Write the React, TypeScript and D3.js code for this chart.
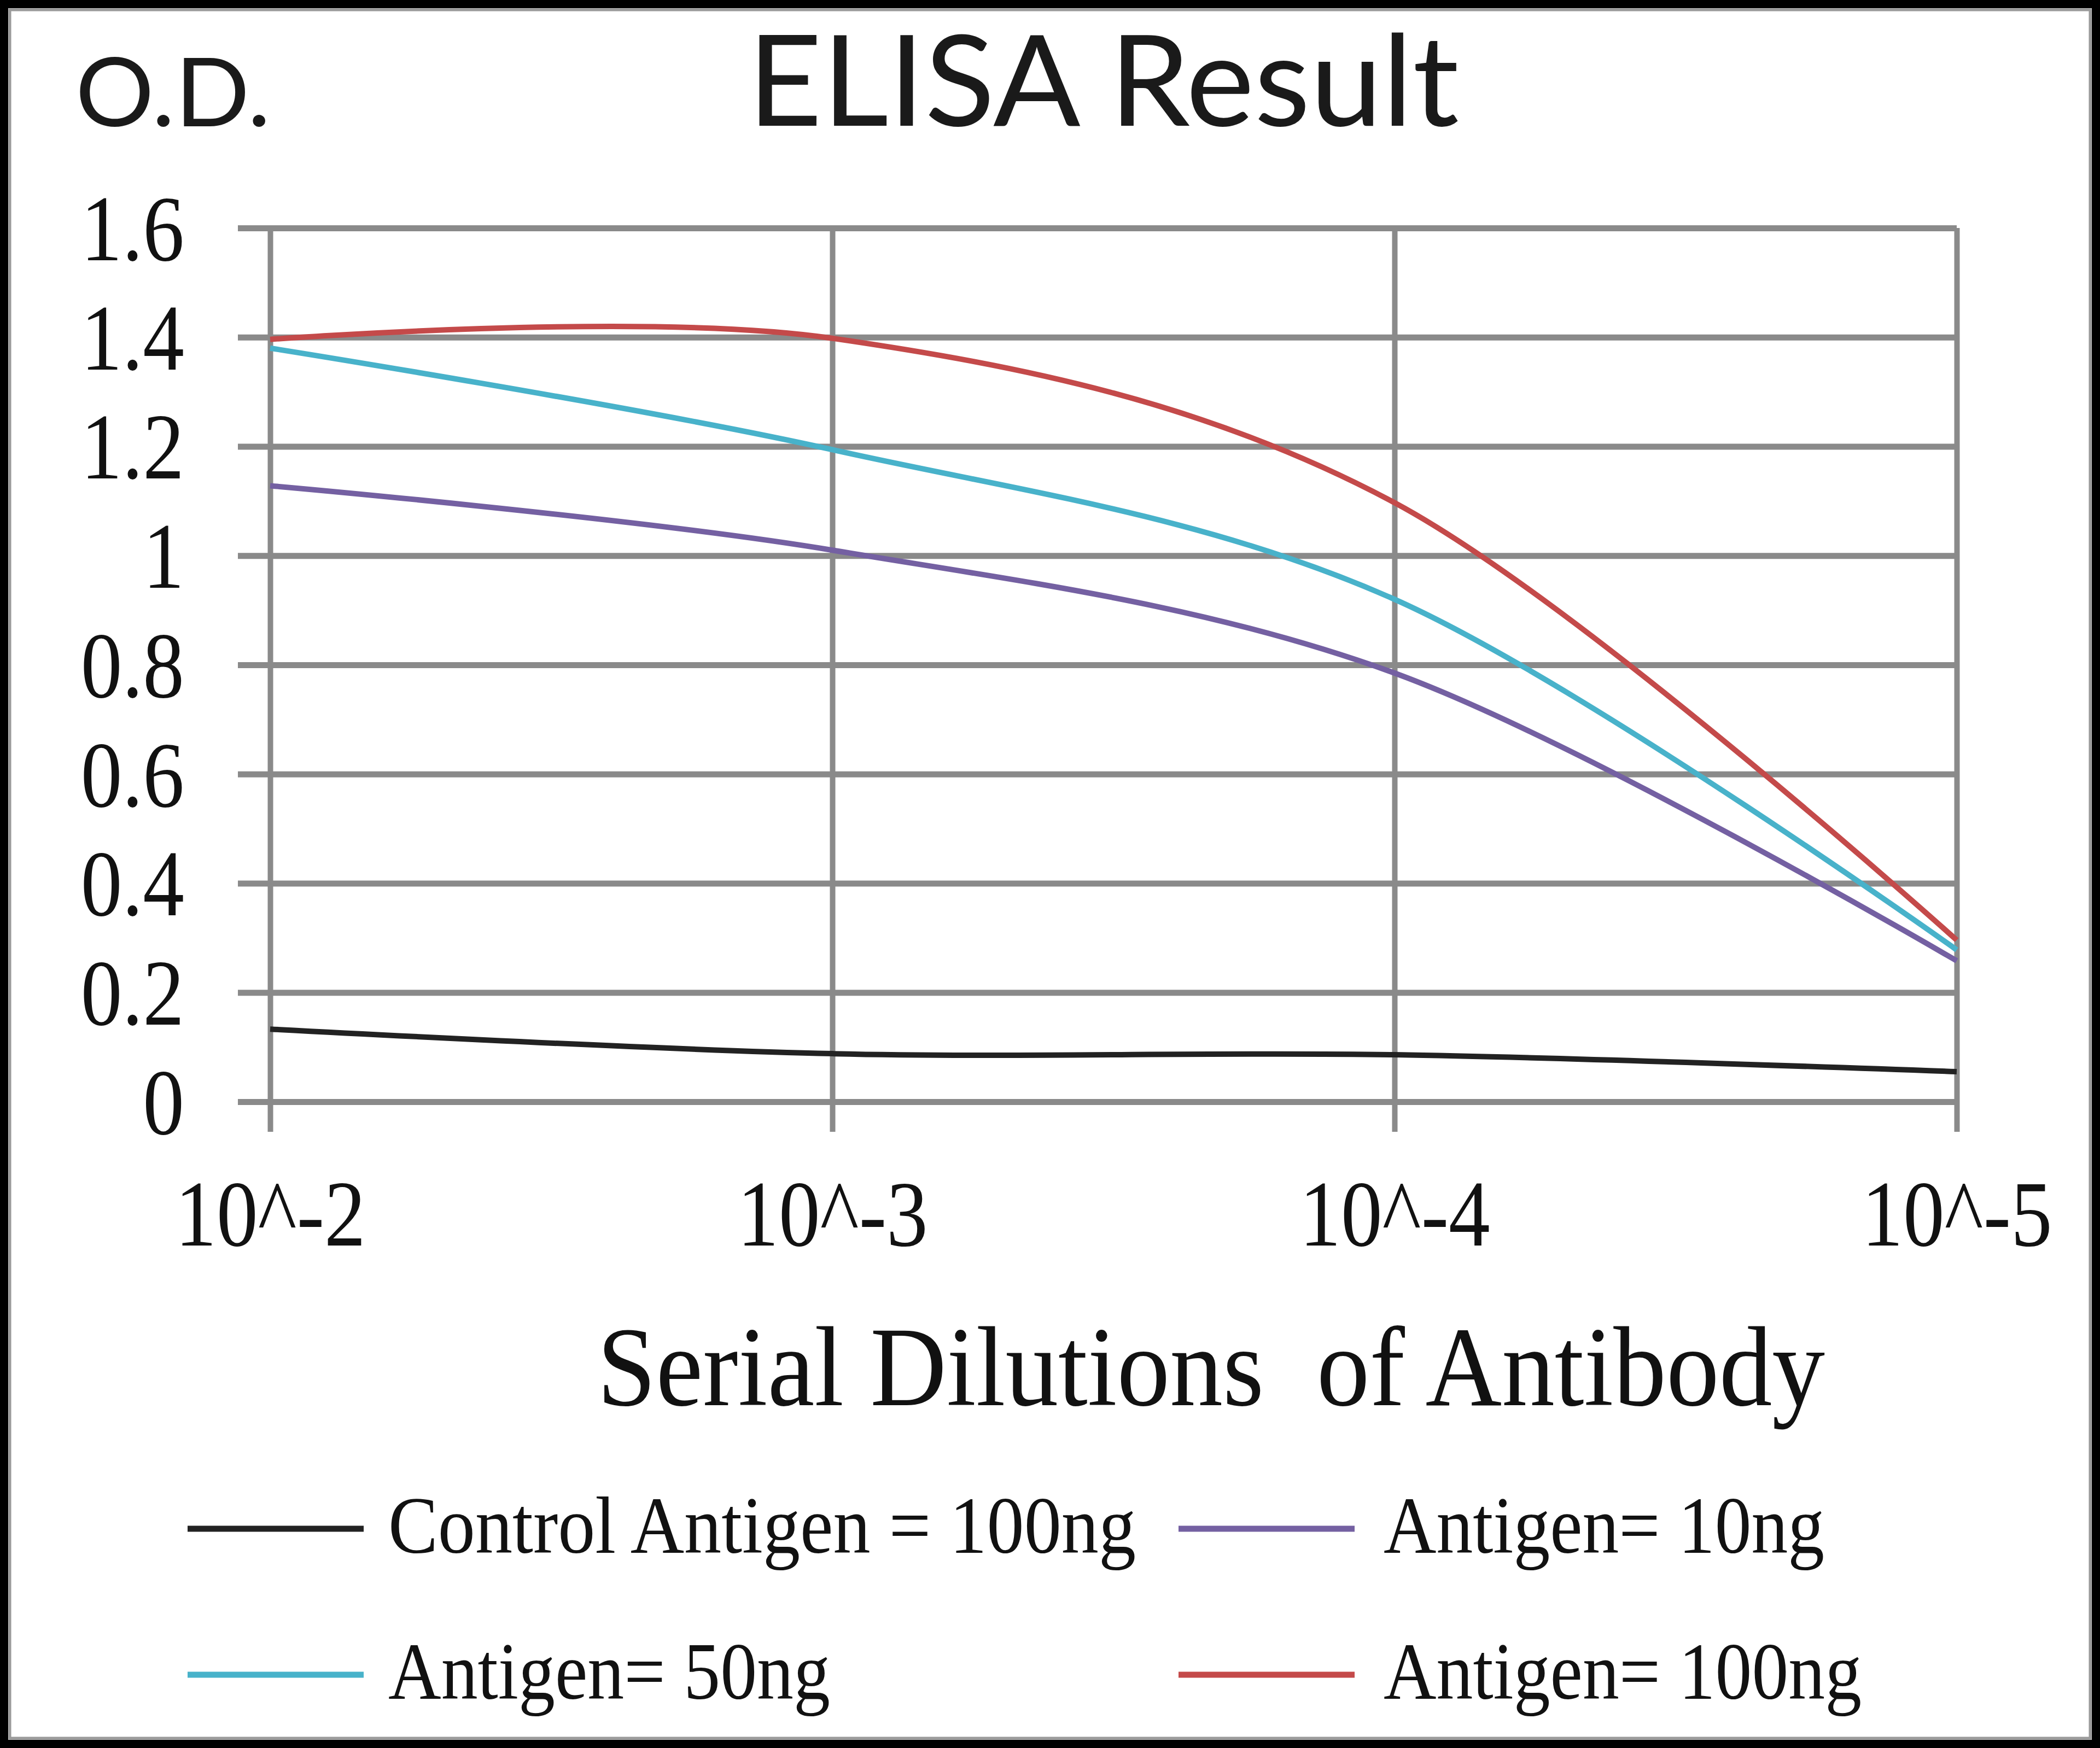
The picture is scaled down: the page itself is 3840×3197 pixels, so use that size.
import React, { useEffect, useRef } from "react";
import * as d3 from "d3";

// dilution categories on the x axis
const categories = ["10^-2", "10^-3", "10^-4", "10^-5"];
const yTicks = [0, 0.2, 0.4, 0.6, 0.8, 1, 1.2, 1.4, 1.6];

// O.D. values
const controlValues = [0.133, 0.088, 0.086, 0.055];
const antigen10Values = [1.128, 1.01, 0.785, 0.258];
const antigen50Values = [1.38, 1.194, 0.92, 0.278];
const antigen100Values = [1.396, 1.398, 1.097, 0.296];

const seriesNames = [
  "Control Antigen = 100ng",
  "Antigen= 10ng",
  "Antigen= 50ng",
  "Antigen= 100ng",
];
const seriesColors = ["#222222", "#7460a2", "#48b2ca", "#c44a4a"];

export default function App() {
  const svgRef = useRef<SVGSVGElement>(null);

  useEffect(() => {
    const W = 3840;
    const H = 3197;
    const svg = d3.select(svgRef.current);
    svg.selectAll("*").remove();

    const left = 494;
    const right = 3578;
    const top = 417;
    const bottom = 2015;

    const x = d3.scalePoint<string>().domain(categories).range([left, right]);
    const y = d3.scaleLinear().domain([0, 1.6]).range([bottom, top]);

    svg.append("rect").attr("width", W).attr("height", H).attr("fill", "#fff");

    // horizontal grid + left ticks
    const yAxis = svg
      .append("g")
      .attr("transform", `translate(435,0)`)
      .call(
        d3
          .axisLeft(y)
          .tickValues(yTicks)
          .tickSize(-(right - 435))
          .tickPadding(98)
          .tickFormat((d) => String(d))
      );
    yAxis.select(".domain").remove();
    yAxis.selectAll(".tick line").attr("stroke", "#8a8a8a").attr("stroke-width", 11);
    yAxis
      .selectAll(".tick text")
      .attr("fill", "#111")
      .attr("font-family", "'Liberation Serif', 'Times New Roman', serif")
      .attr("font-size", 172)
      .attr("dy", "0.34em");

    // vertical grid + bottom ticks
    const xAxis = svg
      .append("g")
      .attr("transform", `translate(0,2070)`)
      .call(d3.axisBottom(x).tickSize(-(2070 - top)));
    xAxis.select(".domain").remove();
    xAxis.selectAll(".tick line").attr("stroke", "#8a8a8a").attr("stroke-width", 10);
    xAxis
      .selectAll(".tick text")
      .attr("fill", "#111")
      .attr("font-family", "'Liberation Serif', 'Times New Roman', serif")
      .attr("font-size", 172)
      .attr("y", 208)
      .attr("dy", 0);

    // squeeze the serif labels a little, like the original
    svg.selectAll<SVGTextElement, unknown>(".tick text").each(function () {
      const w = this.getComputedTextLength();
      d3.select(this).attr("textLength", w * 0.88).attr("lengthAdjust", "spacingAndGlyphs");
    });

    // series
    const allValues = [controlValues, antigen10Values, antigen50Values, antigen100Values];
    const line = d3
      .line<number>()
      .x((_, i) => x(categories[i]) as number)
      .y((d) => y(d))
      .curve(d3.curveCardinal.tension(0));

    svg
      .append("g")
      .selectAll("path")
      .data(allValues)
      .join("path")
      .attr("d", (d) => line(d))
      .attr("fill", "none")
      .attr("stroke", (_, i) => seriesColors[i])
      .attr("stroke-width", 10)
      .attr("stroke-linejoin", "round");

    // titles
    svg
      .append("text")
      .attr("x", 138)
      .attr("y", 231)
      .attr("font-family", "Lato, 'Open Sans', sans-serif")
      .attr("font-size", 175)
      .attr("fill", "#1a1a1a")
      .attr("textLength", 357)
      .attr("lengthAdjust", "spacingAndGlyphs")
      .text("O.D.");

    svg
      .append("text")
      .attr("x", 1367)
      .attr("y", 230)
      .attr("font-family", "Lato, 'Open Sans', sans-serif")
      .attr("font-size", 231)
      .attr("fill", "#1a1a1a")
      .attr("textLength", 1301)
      .attr("lengthAdjust", "spacingAndGlyphs")
      .text("ELISA Result");

    svg
      .append("text")
      .attr("x", 1092)
      .attr("y", 2570)
      .attr("font-family", "'Liberation Serif', 'Times New Roman', serif")
      .attr("font-size", 208)
      .attr("fill", "#111")
      .attr("textLength", 2245)
      .attr("lengthAdjust", "spacingAndGlyphs")
      .style("white-space", "pre")
      .text("Serial Dilutions  of Antibody");

    // legend
    const legendPos = [
      { lx: 343, tx: 710, ly: 2796, ty: 2840, w: 1367 },
      { lx: 2155, tx: 2530, ly: 2796, ty: 2840, w: 806 },
      { lx: 343, tx: 710, ly: 3063, ty: 3107, w: 808 },
      { lx: 2155, tx: 2530, ly: 3063, ty: 3107, w: 874 },
    ];
    const legend = svg
      .append("g")
      .selectAll("g")
      .data(seriesNames)
      .join("g");
    legend
      .append("line")
      .attr("x1", (_, i) => legendPos[i].lx)
      .attr("x2", (_, i) => legendPos[i].lx + 322)
      .attr("y1", (_, i) => legendPos[i].ly)
      .attr("y2", (_, i) => legendPos[i].ly)
      .attr("stroke", (_, i) => seriesColors[i])
      .attr("stroke-width", 11);
    legend
      .append("text")
      .attr("x", (_, i) => legendPos[i].tx)
      .attr("y", (_, i) => legendPos[i].ty)
      .attr("font-family", "'Liberation Serif', 'Times New Roman', serif")
      .attr("font-size", 148)
      .attr("fill", "#111")
      .attr("textLength", (_, i) => legendPos[i].w)
      .attr("lengthAdjust", "spacingAndGlyphs")
      .text((d) => d);

    // dark frame round the picture
    svg
      .append("rect")
      .attr("x", 0)
      .attr("y", 0)
      .attr("width", W)
      .attr("height", H)
      .attr("fill", "none")
      .attr("stroke", "#000")
      .attr("stroke-width", 30);
    svg
      .append("rect")
      .attr("x", 18)
      .attr("y", 18)
      .attr("width", W - 36)
      .attr("height", H - 36)
      .attr("fill", "none")
      .attr("stroke", "#9a9a9a")
      .attr("stroke-width", 5);
  }, []);

  return (
    <svg
      ref={svgRef}
      width={3840}
      height={3197}
      style={{ position: "absolute", left: 0, top: 0, display: "block" }}
    ></svg>
  );
}
